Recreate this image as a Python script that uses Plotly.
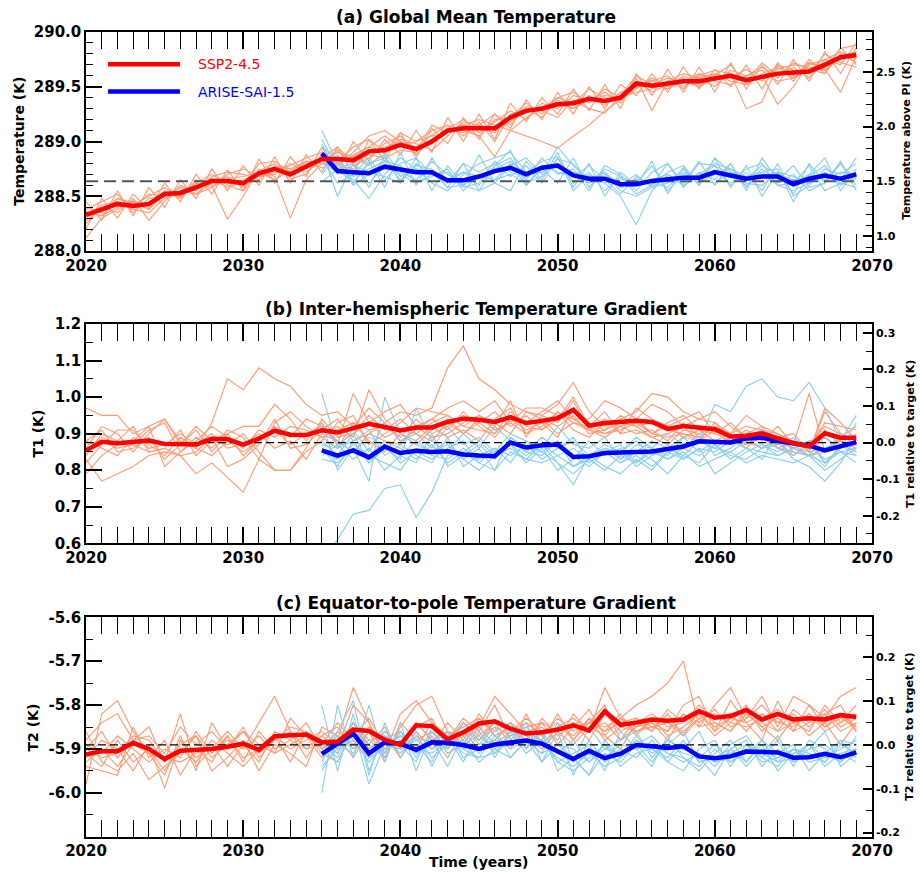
import plotly.graph_objects as go

# ---------------- DATA ----------------
years_ssp = list(range(2020, 2070))
years_arise = list(range(2035, 2070))

# Panel (a) Global mean temperature (K)
gmt_ssp_mean = [288.33, 288.38, 288.43, 288.41, 288.43, 288.52, 288.53, 288.58, 288.64, 288.64,
                288.62, 288.71, 288.75, 288.70, 288.77, 288.84, 288.84, 288.83, 288.91, 288.92,
                288.97, 288.93, 289.00, 289.10, 289.12, 289.12, 289.12, 289.22, 289.28, 289.30,
                289.34, 289.35, 289.39, 289.37, 289.40, 289.53, 289.51, 289.53, 289.55, 289.55,
                289.57, 289.60, 289.56, 289.59, 289.62, 289.63, 289.64, 289.70, 289.77, 289.79]
gmt_arise_mean = [288.89, 288.73, 288.72, 288.71, 288.77,
                  288.75, 288.72, 288.72, 288.645, 288.645, 288.68, 288.73, 288.76, 288.70, 288.76,
                  288.78, 288.69, 288.66, 288.66, 288.61, 288.61, 288.64, 288.66, 288.67, 288.67,
                  288.72, 288.69, 288.66, 288.68, 288.68, 288.61, 288.66, 288.69, 288.66, 288.70]
gmt_ssp_members = [
    [288.12, 288.30, 288.38, 288.46, 288.40, 288.55, 288.50, 288.62, 288.70, 288.60,
     288.55, 288.73, 288.80, 288.66, 288.70, 288.88, 288.80, 288.90, 289.05, 289.10,
     289.00, 288.95, 289.06, 289.15, 289.05, 289.18, 289.00, 289.25, 289.30, 289.22,
     289.38, 289.30, 289.42, 289.33, 289.45, 289.50, 289.56, 289.48, 289.60, 289.52,
     289.62, 289.58, 289.66, 289.55, 289.70, 289.60, 289.72, 289.68, 289.85, 289.88],
    [288.38, 288.45, 288.52, 288.35, 288.48, 288.50, 288.58, 288.55, 288.68, 288.72,
     288.70, 288.65, 288.78, 288.75, 288.82, 288.80, 288.92, 288.78, 288.85, 288.98,
     289.05, 288.88, 289.02, 289.12, 289.20, 289.08, 289.18, 289.28, 289.20, 289.35,
     289.30, 289.42, 289.38, 289.45, 289.35, 289.58, 289.28, 289.55, 289.62, 289.58,
     289.50, 289.65, 289.60, 289.68, 289.58, 289.72, 289.66, 289.62, 289.80, 289.72],
    [288.25, 288.40, 288.35, 288.48, 288.28, 288.45, 288.60, 288.52, 288.58, 288.70,
     288.75, 288.68, 288.70, 288.80, 288.72, 288.82, 288.90, 288.86, 288.80, 288.88,
     289.02, 288.98, 288.92, 289.05, 289.18, 289.15, 289.25, 289.15, 289.32, 289.28,
     289.22, 289.38, 289.30, 289.26, 289.42, 289.50, 289.55, 289.60, 289.48, 289.62,
     289.55, 289.52, 289.60, 289.65, 289.55, 289.58, 289.70, 289.75, 289.70, 289.90],
    [288.40, 288.35, 288.48, 288.42, 288.50, 288.58, 288.48, 288.65, 288.60, 288.29,
     288.50, 288.75, 288.68, 288.30, 288.65, 288.80, 288.78, 288.88, 288.95, 289.05,
     288.95, 289.00, 289.10, 289.15, 289.10, 289.05, 288.86, 289.10, 289.22, 289.30,
     289.40, 289.45, 289.35, 289.48, 289.40, 289.45, 289.48, 289.55, 289.50, 289.60,
     289.65, 289.62, 289.55, 289.72, 289.60, 289.68, 289.58, 289.75, 289.82, 289.75],
    [288.30, 288.42, 288.45, 288.38, 288.35, 288.48, 288.55, 288.60, 288.66, 288.58,
     288.63, 288.68, 288.72, 288.78, 288.85, 288.90, 288.82, 288.95, 289.02, 288.90,
     289.08, 289.00, 289.05, 289.08, 289.15, 289.20, 289.15, 289.10, 289.05, 289.00,
     288.94, 289.05, 289.15, 289.28, 289.38, 289.55, 289.45, 289.52, 289.58, 289.50,
     289.60, 289.70, 289.52, 289.62, 289.68, 289.58, 289.65, 289.72, 289.75, 289.82],
    [288.35, 288.32, 288.40, 288.45, 288.42, 288.55, 288.50, 288.62, 288.58, 288.66,
     288.68, 288.72, 288.65, 288.74, 288.80, 288.85, 288.95, 288.80, 288.88, 288.85,
     288.92, 288.90, 289.15, 289.08, 289.12, 289.05, 289.20, 289.22, 289.35, 289.25,
     289.40, 289.35, 289.48, 289.40, 289.38, 289.48, 289.58, 289.50, 289.55, 289.62,
     289.58, 289.62, 289.30, 289.36, 289.70, 289.65, 289.62, 289.80, 289.72, 289.68],
    [288.28, 288.38, 288.45, 288.40, 288.52, 288.50, 288.55, 288.52, 288.62, 288.68,
     288.58, 288.80, 288.82, 288.72, 288.78, 288.84, 288.78, 288.75, 288.90, 288.95,
     289.00, 288.92, 288.98, 289.12, 289.08, 289.15, 289.10, 289.18, 289.30, 289.28,
     289.35, 289.30, 289.40, 289.38, 289.42, 289.60, 289.52, 289.58, 289.55, 289.58,
     289.62, 289.55, 289.52, 289.60, 289.66, 289.70, 289.68, 289.65, 289.78, 289.82],
    [288.20, 288.48, 288.30, 288.52, 288.38, 288.62, 288.45, 288.70, 288.52, 288.74,
     288.55, 288.84, 288.62, 288.86, 288.68, 288.95, 288.72, 289.00, 288.82, 289.02,
     288.88, 289.10, 288.90, 289.22, 289.00, 289.25, 289.02, 289.35, 289.18, 289.40,
     289.25, 289.48, 289.28, 289.52, 289.30, 289.62, 289.42, 289.66, 289.45, 289.68,
     289.45, 289.72, 289.48, 289.70, 289.52, 289.75, 289.55, 289.82, 289.62, 289.86],
    [288.36, 288.32, 288.48, 288.44, 288.38, 288.52, 288.50, 288.60, 288.66, 288.62,
     288.60, 288.70, 288.74, 288.68, 288.82, 288.76, 288.80, 288.86, 288.95, 288.90,
     288.98, 288.92, 289.02, 289.10, 289.15, 289.12, 289.08, 289.24, 289.28, 289.32,
     289.35, 289.30, 289.38, 289.42, 289.40, 289.50, 289.52, 289.48, 289.55, 289.50,
     289.58, 289.62, 289.58, 289.60, 289.34, 289.50, 289.72, 289.66, 289.45, 289.78],
    [288.45, 288.28, 288.55, 288.32, 288.58, 288.40, 288.65, 288.48, 288.75, 288.55,
     288.78, 288.60, 288.86, 288.62, 288.88, 288.72, 288.95, 288.70, 289.02, 288.82,
     289.08, 288.85, 289.12, 288.98, 289.22, 289.02, 289.25, 289.12, 289.38, 289.20,
     289.45, 289.25, 289.50, 289.30, 289.52, 289.42, 289.62, 289.45, 289.68, 289.48,
     289.66, 289.50, 289.70, 289.48, 289.72, 289.55, 289.75, 289.62, 289.86, 289.70],
]
gmt_arise_members = [
    [289.10, 288.80, 288.65, 288.48, 288.70,
     288.85, 288.75, 288.62, 288.55, 288.70, 288.80, 288.85, 288.90, 288.72, 288.82,
     288.86, 288.55, 288.70, 288.62, 288.50, 288.24, 288.55, 288.70, 288.62, 288.80,
     288.78, 288.60, 288.72, 288.55, 288.80, 288.50, 288.60, 288.75, 288.70, 288.80],
    [288.98, 288.70, 288.85, 288.78, 288.90,
     288.72, 288.65, 288.82, 288.70, 288.60, 288.55, 288.62, 288.78, 288.85, 288.70,
     288.95, 288.78, 288.65, 288.72, 288.60, 288.70, 288.58, 288.62, 288.75, 288.60,
     288.85, 288.72, 288.60, 288.75, 288.62, 288.70, 288.55, 288.62, 288.80, 288.60],
    [288.85, 288.62, 288.70, 288.85, 288.65,
     288.80, 288.85, 288.70, 288.62, 288.72, 288.60, 288.78, 288.85, 288.65, 288.85,
     288.70, 288.75, 288.55, 288.78, 288.70, 288.55, 288.72, 288.80, 288.58, 288.72,
     288.65, 288.80, 288.58, 288.72, 288.75, 288.45, 288.70, 288.85, 288.55, 288.75],
    [288.75, 288.82, 288.60, 288.70, 288.82,
     288.65, 288.78, 288.75, 288.58, 288.80, 288.72, 288.80, 288.68, 288.78, 288.62,
     288.85, 288.62, 288.72, 288.55, 288.68, 288.62, 288.78, 288.55, 288.70, 288.65,
     288.72, 288.62, 288.75, 288.80, 288.60, 288.62, 288.78, 288.55, 288.62, 288.72],
    [288.63, 288.75, 288.80, 288.62, 288.78,
     288.70, 288.62, 288.68, 288.75, 288.55, 288.70, 288.65, 288.80, 288.60, 288.78,
     288.72, 288.68, 288.78, 288.65, 288.52, 288.68, 288.60, 288.72, 288.78, 288.62,
     288.70, 288.75, 288.62, 288.60, 288.72, 288.68, 288.62, 288.70, 288.65, 288.85],
    [288.92, 288.50, 288.80, 288.58, 288.88,
     288.62, 288.85, 288.55, 288.78, 288.60, 288.88, 288.62, 288.55, 288.82, 288.65,
     288.90, 288.58, 288.80, 288.50, 288.72, 288.60, 288.82, 288.52, 288.76, 288.60,
     288.85, 288.58, 288.78, 288.50, 288.72, 288.52, 288.80, 288.62, 288.82, 288.55],
    [288.80, 288.72, 288.78, 288.72, 288.68,
     288.62, 288.80, 288.70, 288.72, 288.58, 288.62, 288.82, 288.72, 288.68, 288.75,
     288.80, 288.70, 288.62, 288.70, 288.58, 288.66, 288.62, 288.58, 288.72, 288.65,
     288.62, 288.72, 288.66, 288.78, 288.70, 288.65, 288.68, 288.78, 288.60, 288.68],
    [288.95, 288.85, 288.68, 288.75, 288.82,
     288.78, 288.62, 288.70, 288.65, 288.72, 288.68, 288.75, 288.82, 288.70, 288.72,
     288.78, 288.72, 288.68, 288.62, 288.66, 288.60, 288.65, 288.70, 288.60, 288.68,
     288.78, 288.70, 288.65, 288.68, 288.72, 288.62, 288.70, 288.65, 288.72, 288.70],
    [288.70, 288.88, 288.62, 288.82, 288.58,
     288.90, 288.60, 288.85, 288.62, 288.80, 288.55, 288.78, 288.92, 288.60, 288.75,
     288.62, 288.85, 288.58, 288.75, 288.68, 288.52, 288.60, 288.80, 288.62, 288.82,
     288.60, 288.80, 288.55, 288.85, 288.65, 288.78, 288.58, 288.62, 288.80, 288.65],
    [289.02, 288.75, 288.62, 288.80, 288.85,
     288.68, 288.75, 288.72, 288.58, 288.60, 288.68, 288.65, 288.70, 288.62, 288.68,
     288.84, 288.80, 288.62, 288.72, 288.55, 288.50, 288.58, 288.68, 288.62, 288.70,
     288.80, 288.75, 288.68, 288.72, 288.60, 288.55, 288.62, 288.72, 288.62, 288.58],
]

# Panel (b) Inter-hemispheric gradient T1 (K)
t1_ssp_mean = [0.854, 0.878, 0.874, 0.876, 0.881, 0.872, 0.872, 0.870, 0.886, 0.885,
               0.870, 0.887, 0.908, 0.897, 0.896, 0.909, 0.903, 0.915, 0.927, 0.918,
               0.909, 0.917, 0.917, 0.932, 0.941, 0.938, 0.932, 0.945, 0.929, 0.935,
               0.942, 0.965, 0.922, 0.929, 0.932, 0.935, 0.932, 0.913, 0.921, 0.915,
               0.912, 0.892, 0.894, 0.901, 0.887, 0.874, 0.865, 0.901, 0.889, 0.889]
t1_arise_mean = [0.854, 0.840, 0.854, 0.835, 0.865,
                 0.847, 0.853, 0.850, 0.852, 0.843, 0.840, 0.838, 0.876, 0.862, 0.868,
                 0.870, 0.836, 0.838, 0.847, 0.850, 0.850, 0.851, 0.858, 0.865, 0.879,
                 0.877, 0.876, 0.887, 0.889, 0.880, 0.874, 0.867, 0.854, 0.867, 0.877]
t1_ssp_members = [
    [0.97, 0.95, 0.95, 0.90, 0.92, 0.94, 0.88, 0.86, 0.93, 1.05,
     1.02, 1.08, 1.05, 1.03, 0.98, 0.95, 0.96, 0.92, 0.97, 0.93,
     0.96, 0.95, 0.97, 1.08, 1.14, 1.05, 1.02, 0.98, 0.96, 0.95,
     0.98, 1.04, 0.96, 0.92, 0.94, 0.96, 1.01, 1.00, 0.96, 0.94,
     0.93, 0.90, 0.95, 0.92, 0.90, 0.88, 0.87, 0.92, 0.90, 0.88],
    [0.83, 0.77, 0.79, 0.81, 0.84, 0.85, 0.84, 0.79, 0.82, 0.78,
     0.74, 0.83, 0.80, 0.80, 0.85, 0.88, 0.93, 0.95, 0.87, 0.90,
     0.93, 0.97, 0.96, 0.95, 0.92, 0.95, 0.93, 0.90, 0.96, 0.94,
     0.90, 0.93, 0.91, 0.89, 0.92, 0.94, 0.90, 0.92, 0.89, 0.91,
     0.88, 0.90, 0.87, 0.89, 0.86, 0.85, 0.84, 0.86, 0.88, 0.87],
    [0.86, 0.92, 0.90, 0.85, 0.90, 0.94, 0.87, 0.92, 0.88, 0.90,
     0.92, 0.92, 0.98, 0.94, 0.88, 0.93, 0.87, 1.01, 0.93, 0.96,
     0.98, 0.92, 0.94, 0.97, 0.99, 0.96, 0.99, 0.93, 0.97, 0.97,
     0.95, 0.94, 0.94, 0.99, 0.97, 0.94, 0.98, 0.96, 0.92, 0.94,
     0.96, 0.92, 0.89, 0.91, 0.89, 0.90, 0.85, 0.97, 0.93, 0.88],
    [0.82, 0.87, 0.91, 0.91, 0.86, 0.87, 0.90, 0.87, 0.90, 0.86,
     0.87, 0.90, 0.86, 0.88, 0.83, 0.90, 0.92, 0.89, 1.02, 0.94,
     0.90, 0.87, 0.91, 0.94, 0.90, 0.93, 0.96, 0.92, 0.95, 0.91,
     0.96, 0.93, 0.92, 0.96, 0.90, 0.97, 0.94, 0.92, 0.94, 0.96,
     0.90, 0.88, 0.91, 0.88, 0.92, 0.87, 1.01, 0.85, 0.89, 0.92],
    [0.79, 0.84, 0.87, 0.88, 0.92, 0.81, 0.85, 0.89, 0.86, 0.91,
     0.89, 0.83, 0.93, 0.96, 0.92, 0.89, 0.86, 0.93, 0.88, 0.85,
     0.90, 0.88, 0.92, 0.89, 0.91, 0.88, 0.94, 0.97, 0.90, 0.92,
     0.96, 0.91, 0.89, 0.93, 0.92, 0.90, 0.91, 0.88, 0.93, 0.89,
     0.87, 0.89, 0.86, 0.90, 0.88, 0.84, 0.88, 0.82, 0.86, 0.90],
    [0.84, 0.90, 0.88, 0.92, 0.85, 0.86, 0.91, 0.84, 0.88, 0.87,
     0.90, 0.85, 0.80, 0.80, 0.86, 0.94, 0.89, 0.90, 0.95, 0.91,
     0.94, 0.90, 0.93, 0.95, 0.92, 0.91, 0.90, 0.94, 0.91, 0.93,
     0.89, 0.97, 0.93, 0.91, 0.95, 0.92, 0.93, 0.91, 0.90, 0.88,
     0.91, 0.87, 0.90, 0.92, 0.86, 0.88, 0.86, 0.91, 0.87, 0.85],
    [0.88, 0.86, 0.84, 0.89, 0.87, 0.84, 0.89, 0.86, 0.84, 0.88,
     0.85, 0.88, 0.91, 0.87, 0.90, 0.92, 0.88, 0.85, 0.90, 0.88,
     0.87, 0.92, 0.89, 0.90, 0.93, 0.95, 0.91, 0.93, 0.90, 0.94,
     0.92, 0.95, 0.90, 0.91, 0.93, 0.92, 0.89, 0.87, 0.91, 0.90,
     0.92, 0.89, 0.88, 0.86, 0.89, 0.86, 0.84, 0.90, 0.88, 0.86],
    [0.85, 0.88, 0.86, 0.87, 0.91, 0.93, 0.85, 0.88, 0.92, 0.89,
     0.86, 0.91, 0.89, 0.92, 0.91, 0.89, 0.91, 0.93, 0.91, 0.92,
     0.89, 0.94, 0.90, 0.92, 0.95, 0.93, 0.90, 0.96, 0.92, 0.91,
     0.94, 1.00, 0.92, 0.90, 0.91, 0.93, 0.90, 0.93, 0.95, 0.91,
     0.90, 0.93, 0.89, 0.91, 0.88, 0.86, 0.88, 0.89, 0.86, 0.87],
    [0.88, 0.91, 0.85, 0.86, 0.89, 0.83, 0.87, 0.91, 0.85, 0.90,
     0.84, 0.88, 0.92, 0.89, 0.94, 0.92, 0.87, 0.90, 0.93, 0.89,
     0.91, 0.90, 0.88, 0.93, 0.90, 0.94, 0.92, 0.99, 0.89, 0.95,
     0.93, 0.99, 0.91, 0.94, 0.90, 0.91, 0.89, 0.90, 0.92, 0.88,
     0.93, 0.88, 0.87, 0.90, 0.87, 0.88, 0.85, 0.96, 0.90, 0.88],
    [0.85, 0.89, 0.87, 0.87, 0.85, 0.86, 0.84, 0.85, 0.89, 0.81,
     0.83, 0.87, 0.94, 0.86, 0.87, 0.91, 0.94, 0.88, 0.90, 0.93,
     0.88, 0.91, 0.94, 0.91, 0.96, 0.92, 0.89, 0.94, 0.93, 0.96,
     0.99, 0.94, 0.91, 0.90, 0.92, 0.94, 0.90, 0.89, 0.90, 0.89,
     0.92, 0.90, 0.92, 0.91, 0.90, 0.87, 0.86, 0.93, 0.92, 0.91],
]
t1_arise_members = [
    [0.55, 0.61, 0.68, 0.69, 0.75,
     0.76, 0.67, 0.74, 0.84, 0.85, 0.82, 0.80, 0.85, 0.83, 0.82,
     0.84, 0.81, 0.83, 0.80, 0.84, 0.82, 0.86, 0.83, 0.85, 0.81,
     0.83, 0.85, 0.82, 0.84, 0.83, 0.82, 0.84, 0.80, 0.83, 0.86],
    [1.01, 0.86, 0.91, 0.85, 0.93,
     0.88, 0.90, 0.86, 0.92, 0.87, 0.89, 0.85, 0.90, 0.88, 0.86,
     0.92, 0.87, 0.86, 0.89, 0.83, 0.87, 0.86, 0.84, 0.89, 0.88,
     0.98, 0.96, 1.03, 1.05, 1.00, 0.99, 1.04, 0.97, 0.88, 0.95],
    [0.93, 0.80, 0.86, 0.77, 1.00,
     0.90, 0.87, 0.85, 0.88, 0.83, 0.80, 0.84, 0.87, 0.82, 0.86,
     0.80, 0.83, 0.88, 0.84, 0.86, 0.81, 0.84, 0.87, 0.83, 0.86,
     0.85, 0.88, 0.86, 0.83, 0.90, 0.85, 0.84, 0.82, 0.86, 0.93],
    [0.88, 0.84, 0.90, 0.82, 0.86,
     0.83, 0.97, 0.88, 0.85, 0.90, 0.86, 0.92, 0.88, 0.85, 0.89,
     0.86, 0.88, 0.84, 0.87, 0.85, 0.89, 0.86, 0.90, 0.87, 0.88,
     0.86, 0.89, 0.88, 0.91, 0.88, 0.87, 0.84, 0.85, 0.90, 0.87],
    [0.84, 0.87, 0.83, 0.86, 0.80,
     0.84, 0.82, 0.90, 0.81, 0.84, 0.87, 0.83, 0.89, 0.86, 0.85,
     0.82, 0.76, 0.84, 0.81, 0.79, 0.83, 0.80, 0.85, 0.83, 0.86,
     0.79, 0.82, 0.85, 0.87, 0.84, 0.86, 0.88, 0.82, 0.85, 0.84],
    [0.86, 0.81, 0.88, 0.91, 0.84,
     0.87, 0.84, 0.82, 0.89, 0.81, 0.84, 0.86, 0.82, 0.88, 0.85,
     0.88, 0.84, 0.81, 0.85, 0.82, 0.85, 0.83, 0.79, 0.84, 0.82,
     0.87, 0.84, 0.83, 0.86, 0.88, 0.83, 0.81, 0.77, 0.82, 0.89],
    [0.90, 0.88, 0.85, 0.89, 0.87,
     0.82, 0.85, 0.83, 0.86, 0.88, 0.82, 0.86, 0.84, 0.87, 0.83,
     0.86, 0.89, 0.82, 0.85, 0.87, 0.82, 0.85, 0.83, 0.86, 0.90,
     0.84, 0.86, 0.90, 0.87, 0.85, 0.88, 0.86, 0.89, 0.85, 0.86],
    [0.85, 0.83, 0.87, 0.84, 0.88,
     0.86, 0.83, 0.87, 0.82, 0.85, 0.88, 0.84, 0.86, 0.83, 0.87,
     0.84, 0.86, 0.83, 0.86, 0.85, 0.88, 0.84, 0.86, 0.89, 0.85,
     0.88, 0.87, 0.89, 0.86, 0.87, 0.89, 0.85, 0.86, 0.88, 0.85],
    [0.87, 0.86, 0.88, 0.82, 0.86,
     0.84, 0.88, 0.85, 0.87, 0.83, 0.86, 0.80, 0.89, 0.85, 0.84,
     0.88, 0.81, 0.84, 0.86, 0.83, 0.85, 0.88, 0.86, 0.84, 0.88,
     0.86, 0.85, 0.88, 0.89, 0.86, 0.84, 0.87, 0.83, 0.85, 0.82],
    [0.83, 0.82, 0.86, 0.84, 0.82,
     0.80, 0.86, 0.84, 0.83, 0.86, 0.83, 0.85, 0.87, 0.84, 0.87,
     0.82, 0.79, 0.83, 0.85, 0.82, 0.84, 0.81, 0.85, 0.86, 0.84,
     0.87, 0.83, 0.86, 0.85, 0.84, 0.86, 0.85, 0.81, 0.87, 0.84],
]

# Panel (c) Equator-to-pole gradient T2 (K)
t2_ssp_mean = [-5.913, -5.905, -5.905, -5.886, -5.900, -5.923, -5.904, -5.902, -5.900, -5.895,
               -5.888, -5.902, -5.871, -5.869, -5.867, -5.885, -5.883, -5.856, -5.859, -5.879,
               -5.891, -5.846, -5.848, -5.878, -5.862, -5.842, -5.837, -5.854, -5.865, -5.862,
               -5.856, -5.846, -5.858, -5.814, -5.845, -5.840, -5.833, -5.836, -5.833, -5.814,
               -5.829, -5.825, -5.811, -5.833, -5.820, -5.833, -5.830, -5.833, -5.823, -5.827]
t2_arise_mean = [-5.911, -5.887, -5.865, -5.910, -5.885,
                 -5.888, -5.902, -5.885, -5.886, -5.891, -5.900, -5.890, -5.885, -5.881, -5.888,
                 -5.906, -5.923, -5.904, -5.921, -5.911, -5.891, -5.894, -5.898, -5.894, -5.917,
                 -5.921, -5.917, -5.906, -5.906, -5.908, -5.920, -5.919, -5.911, -5.919, -5.908]
t2_ssp_members = [
    [-5.98, -5.82, -5.79, -5.86, -5.91, -5.96, -5.87, -5.95, -5.84, -5.90,
     -5.86, -5.89, -5.91, -5.83, -5.87, -5.92, -5.88, -5.76, -5.84, -5.92,
     -5.85, -5.80, -5.78, -5.86, -5.90, -5.85, -5.78, -5.82, -5.86, -5.85,
     -5.88, -5.82, -5.86, -5.76, -5.83, -5.80, -5.78, -5.75, -5.70, -5.85,
     -5.80, -5.76, -5.83, -5.78, -5.85, -5.78, -5.80, -5.83, -5.78, -5.76],
    [-5.88, -5.84, -5.82, -5.88, -5.85, -5.93, -5.82, -5.94, -5.90, -5.86,
     -5.90, -5.84, -5.78, -5.86, -5.92, -5.87, -5.90, -5.80, -5.84, -5.91,
     -5.82, -5.79, -5.84, -5.88, -5.83, -5.86, -5.80, -5.88, -5.84, -5.87,
     -5.83, -5.86, -5.84, -5.80, -5.88, -5.83, -5.85, -5.86, -5.80, -5.78,
     -5.86, -5.79, -5.84, -5.88, -5.79, -5.86, -5.80, -5.85, -5.82, -5.85],
    [-5.94, -5.95, -5.96, -5.85, -5.92, -5.88, -5.96, -5.90, -5.93, -5.87,
     -5.92, -5.90, -5.87, -5.93, -5.86, -5.91, -5.93, -5.86, -5.89, -5.85,
     -5.92, -5.87, -5.89, -5.84, -5.88, -5.82, -5.87, -5.90, -5.82, -5.89,
     -5.85, -5.87, -5.83, -5.88, -5.85, -5.86, -5.84, -5.88, -5.82, -5.85,
     -5.84, -5.86, -5.81, -5.86, -5.82, -5.84, -5.86, -5.80, -5.84, -5.82],
    [-5.86, -5.93, -5.95, -5.91, -5.97, -5.94, -5.91, -5.87, -5.95, -5.92,
     -5.88, -5.95, -5.89, -5.91, -5.94, -5.85, -5.87, -5.92, -5.86, -5.90,
     -5.88, -5.91, -5.87, -5.92, -5.86, -5.90, -5.88, -5.84, -5.87, -5.90,
     -5.86, -5.89, -5.85, -5.87, -5.90, -5.84, -5.86, -5.82, -5.87, -5.83,
     -5.87, -5.84, -5.80, -5.85, -5.88, -5.83, -5.87, -5.84, -5.89, -5.84],
    [-5.92, -5.88, -5.90, -5.95, -5.89, -5.99, -5.88, -5.92, -5.89, -5.94,
     -5.89, -5.93, -5.86, -5.88, -5.90, -5.89, -5.84, -5.88, -5.92, -5.86,
     -5.90, -5.84, -5.88, -5.86, -5.89, -5.83, -5.86, -5.84, -5.90, -5.83,
     -5.87, -5.84, -5.88, -5.82, -5.86, -5.84, -5.82, -5.85, -5.84, -5.80,
     -5.83, -5.82, -5.86, -5.82, -5.84, -5.85, -5.82, -5.86, -5.84, -5.80],
    [-5.90, -5.86, -5.92, -5.88, -5.87, -5.91, -5.85, -5.89, -5.86, -5.90,
     -5.85, -5.92, -5.88, -5.85, -5.86, -5.88, -5.91, -5.84, -5.88, -5.87,
     -5.89, -5.85, -5.83, -5.90, -5.84, -5.88, -5.84, -5.86, -5.83, -5.86,
     -5.84, -5.88, -5.83, -5.86, -5.84, -5.83, -5.86, -5.81, -5.84, -5.82,
     -5.85, -5.83, -5.81, -5.84, -5.86, -5.81, -5.84, -5.82, -5.80, -5.86],
    [-5.89, -5.91, -5.87, -5.90, -5.93, -5.90, -5.92, -5.86, -5.91, -5.87,
     -5.93, -5.86, -5.90, -5.88, -5.84, -5.90, -5.86, -5.89, -5.85, -5.88,
     -5.86, -5.90, -5.84, -5.87, -5.85, -5.83, -5.87, -5.85, -5.88, -5.84,
     -5.89, -5.85, -5.81, -5.87, -5.83, -5.85, -5.84, -5.86, -5.82, -5.84,
     -5.81, -5.85, -5.83, -5.80, -5.84, -5.82, -5.85, -5.81, -5.85, -5.83],
    [-5.91, -5.94, -5.88, -5.93, -5.90, -5.95, -5.90, -5.93, -5.88, -5.91,
     -5.94, -5.90, -5.87, -5.90, -5.88, -5.86, -5.89, -5.84, -5.90, -5.87,
     -5.92, -5.86, -5.90, -5.88, -5.84, -5.87, -5.84, -5.89, -5.86, -5.88,
     -5.82, -5.88, -5.84, -5.86, -5.82, -5.87, -5.83, -5.84, -5.87, -5.81,
     -5.84, -5.86, -5.82, -5.85, -5.83, -5.86, -5.84, -5.82, -5.86, -5.84],
    [-5.93, -5.90, -5.94, -5.89, -5.91, -5.92, -5.93, -5.91, -5.90, -5.88,
     -5.90, -5.87, -5.91, -5.89, -5.87, -5.90, -5.88, -5.87, -5.83, -5.89,
     -5.90, -5.84, -5.88, -5.86, -5.87, -5.85, -5.89, -5.86, -5.84, -5.87,
     -5.85, -5.83, -5.86, -5.84, -5.88, -5.85, -5.83, -5.87, -5.85, -5.82,
     -5.86, -5.83, -5.84, -5.82, -5.86, -5.84, -5.82, -5.85, -5.83, -5.85],
    [-5.90, -5.92, -5.91, -5.87, -5.88, -5.93, -5.89, -5.87, -5.92, -5.89,
     -5.86, -5.91, -5.88, -5.86, -5.90, -5.87, -5.85, -5.90, -5.86, -5.93,
     -5.84, -5.88, -5.86, -5.90, -5.86, -5.88, -5.85, -5.87, -5.85, -5.84,
     -5.86, -5.85, -5.84, -5.85, -5.83, -5.86, -5.85, -5.84, -5.86, -5.83,
     -5.82, -5.84, -5.85, -5.83, -5.81, -5.84, -5.83, -5.84, -5.82, -5.86],
]
t2_arise_members = [
    [-6.00, -5.80, -5.92, -5.80, -5.93,
     -5.84, -5.95, -5.86, -5.90, -5.84, -5.89, -5.85, -5.92, -5.88, -5.91,
     -5.84, -5.93, -5.85, -5.90, -5.88, -5.86, -5.92, -5.88, -5.90, -5.86,
     -5.93, -5.89, -5.87, -5.92, -5.88, -5.94, -5.88, -5.90, -5.93, -5.87],
    [-5.80, -5.95, -5.82, -5.96, -5.84,
     -5.92, -5.86, -5.94, -5.87, -5.93, -5.86, -5.91, -5.88, -5.84, -5.93,
     -5.86, -5.96, -5.88, -5.93, -5.90, -5.92, -5.88, -5.93, -5.95, -5.90,
     -5.88, -5.94, -5.89, -5.91, -5.87, -5.93, -5.90, -5.86, -5.94, -5.91],
    [-5.93, -5.86, -5.79, -5.95, -5.87,
     -5.89, -5.93, -5.85, -5.91, -5.89, -5.84, -5.92, -5.86, -5.91, -5.88,
     -5.93, -5.91, -5.89, -5.95, -5.86, -5.90, -5.94, -5.87, -5.92, -5.95,
     -5.91, -5.88, -5.93, -5.89, -5.95, -5.91, -5.89, -5.94, -5.91, -5.90],
    [-5.88, -5.91, -5.84, -5.89, -5.92,
     -5.86, -5.90, -5.88, -5.94, -5.87, -5.91, -5.88, -5.85, -5.90, -5.86,
     -5.91, -5.88, -5.93, -5.89, -5.92, -5.88, -5.90, -5.93, -5.89, -5.92,
     -5.96, -5.90, -5.93, -5.88, -5.91, -5.89, -5.95, -5.91, -5.88, -5.92],
    [-5.92, -5.88, -5.87, -5.91, -5.86,
     -5.90, -5.89, -5.93, -5.86, -5.90, -5.92, -5.87, -5.90, -5.88, -5.93,
     -5.89, -5.92, -5.96, -5.88, -5.92, -5.87, -5.91, -5.89, -5.86, -5.93,
     -5.92, -5.91, -5.89, -5.93, -5.92, -5.90, -5.93, -5.92, -5.90, -5.88],
    [-5.90, -5.93, -5.86, -5.92, -5.90,
     -5.87, -5.91, -5.89, -5.86, -5.92, -5.90, -5.86, -5.84, -5.89, -5.86,
     -5.95, -5.92, -5.96, -5.91, -5.93, -5.89, -5.87, -5.91, -5.92, -5.94,
     -5.90, -5.93, -5.91, -5.88, -5.93, -5.92, -5.89, -5.92, -5.91, -5.93],
    [-5.95, -5.89, -5.91, -5.86, -5.88,
     -5.91, -5.87, -5.92, -5.89, -5.88, -5.93, -5.90, -5.87, -5.85, -5.89,
     -5.92, -5.94, -5.91, -5.94, -5.92, -5.89, -5.93, -5.88, -5.90, -5.91,
     -5.94, -5.90, -5.88, -5.94, -5.90, -5.93, -5.91, -5.93, -5.89, -5.91],
    [-5.91, -5.87, -5.90, -5.88, -5.91,
     -5.86, -5.92, -5.86, -5.91, -5.89, -5.87, -5.90, -5.92, -5.88, -5.91,
     -5.89, -5.90, -5.93, -5.90, -5.91, -5.88, -5.90, -5.92, -5.88, -5.93,
     -5.92, -5.90, -5.94, -5.90, -5.92, -5.91, -5.90, -5.89, -5.92, -5.90],
    [-5.94, -5.90, -5.88, -5.93, -5.89,
     -5.87, -5.90, -5.91, -5.88, -5.90, -5.89, -5.88, -5.89, -5.86, -5.88,
     -5.91, -5.93, -5.90, -5.92, -5.89, -5.90, -5.89, -5.91, -5.93, -5.91,
     -5.93, -5.92, -5.90, -5.91, -5.93, -5.90, -5.92, -5.91, -5.93, -5.90],
    [-5.89, -5.92, -5.85, -5.98, -5.89,
     -5.90, -5.88, -5.90, -5.87, -5.91, -5.92, -5.91, -5.86, -5.87, -5.87,
     -5.93, -5.95, -5.92, -5.89, -5.94, -5.91, -5.90, -5.89, -5.91, -5.92,
     -5.89, -5.93, -5.90, -5.92, -5.94, -5.90, -5.91, -5.93, -5.88, -5.89],
]

# Target levels (left-axis units) and their right-axis equivalents
targets_left = [288.636, 0.8756, -5.8906]
targets_right = [1.5, 0.0, 0.0]

# Axis ranges / ticks
left_ranges = [[288.0, 290.0], [0.6, 1.2], [-6.1, -5.6]]
left_tickvals = [[288.0, 288.5, 289.0, 289.5, 290.0],
                 [0.6, 0.7, 0.8, 0.9, 1.0, 1.1, 1.2],
                 [-6.0, -5.9, -5.8, -5.7, -5.6]]
right_tickvals = [[1.0, 1.5, 2.0, 2.5],
                  [-0.2, -0.1, 0.0, 0.1, 0.2, 0.3],
                  [-0.2, -0.1, 0.0, 0.1, 0.2]]
left_minor = [0.1, 0.05, 0.05]
right_minor = [0.1, 0.05, 0.05]
x_tickvals = [2020, 2030, 2040, 2050, 2060, 2070]

titles = ["(a) Global Mean Temperature",
          "(b) Inter-hemispheric Temperature Gradient",
          "(c) Equator-to-pole Temperature Gradient"]
left_titles = ["Temperature (K)", "T1 (K)", "T2 (K)"]
right_titles = ["Temperature above PI (K)", "T1 relative to target (K)", "T2 relative to target (K)"]
legend_labels = ["SSP2-4.5", "ARISE-SAI-1.5"]

# ---------------- SANITY ----------------
for m in gmt_ssp_members + t1_ssp_members + t2_ssp_members + [gmt_ssp_mean, t1_ssp_mean, t2_ssp_mean]:
    assert len(m) == len(years_ssp), len(m)
for m in gmt_arise_members + t1_arise_members + t2_arise_members + [gmt_arise_mean, t1_arise_mean, t2_arise_mean]:
    assert len(m) == len(years_arise), len(m)


def fmt(v):
    return f"{v:.1f}"


# ---------------- STYLE ----------------
FONT = "DejaVu Sans"
W, H = 920, 872
C_SSP_M = "#FF9872"
C_ARI_M = "#87CEEB"
C_SSP = "#FF0000"
C_ARI = "#0000FF"

X_DOM = [86 / W, 872 / W]
panel_px = [(32, 251), (324, 543.3), (617.3, 836.7)]
y_doms = [[1 - b / H, 1 - t / H] for t, b in panel_px]

fig = go.Figure()

panels = [
    (gmt_ssp_members, gmt_arise_members, gmt_ssp_mean, gmt_arise_mean),
    (t1_ssp_members, t1_arise_members, t1_ssp_mean, t1_arise_mean),
    (t2_ssp_members, t2_arise_members, t2_ssp_mean, t2_arise_mean),
]

layout = {}
for i, (sm, am, smean, amean) in enumerate(panels):
    xa = "x" if i == 0 else f"x{i + 1}"
    yl = "y" if i == 0 else f"y{2 * i + 1}"
    yr = f"y{2 * i + 2}"
    for m in sm:
        fig.add_trace(go.Scatter(x=years_ssp, y=m, mode="lines", xaxis=xa, yaxis=yl,
                                 line=dict(color=C_SSP_M, width=1.1), showlegend=False, hoverinfo="skip"))
    for m in am:
        fig.add_trace(go.Scatter(x=years_arise, y=m, mode="lines", xaxis=xa, yaxis=yl,
                                 line=dict(color=C_ARI_M, width=1.1), showlegend=False, hoverinfo="skip"))
    if i == 0:
        dline = dict(color="#555555", width=2, dash="12px,6px")
    else:
        dline = dict(color="black", width=1.2, dash="8px,4px")
    fig.add_trace(go.Scatter(x=years_ssp, y=[targets_left[i]] * len(years_ssp), mode="lines",
                             xaxis=xa, yaxis=yl, line=dline, showlegend=False, hoverinfo="skip"))
    fig.add_trace(go.Scatter(x=years_arise, y=amean, mode="lines", xaxis=xa, yaxis=yl,
                             line=dict(color=C_ARI, width=4.5), showlegend=False, hoverinfo="skip"))
    fig.add_trace(go.Scatter(x=years_ssp, y=smean, mode="lines", xaxis=xa, yaxis=yl,
                             line=dict(color=C_SSP, width=4.5), showlegend=False, hoverinfo="skip"))
    fig.add_trace(go.Scatter(x=[years_ssp[0]], y=[targets_right[i]], mode="lines", xaxis=xa, yaxis=yr,
                             line=dict(width=0), showlegend=False, hoverinfo="skip"))

    lo, hi = left_ranges[i]
    off = targets_right[i] - targets_left[i]
    xkey = "xaxis" if i == 0 else f"xaxis{i + 1}"
    ylkey = "yaxis" if i == 0 else f"yaxis{2 * i + 1}"
    yrkey = f"yaxis{2 * i + 2}"
    layout[xkey] = dict(
        domain=X_DOM, anchor=yl, range=[2020, 2070], tickmode="array", tickvals=x_tickvals,
        ticktext=[str(v) for v in x_tickvals],
        ticks="inside", ticklen=17, tickwidth=1.5, tickcolor="black",
        showline=True, linewidth=1.5, linecolor="black", mirror="allticks",
        showgrid=False, zeroline=False, automargin=False,
        minor=dict(dtick=1, tick0=2020, ticks="inside", ticklen=8, tickwidth=1.2, tickcolor="black", showgrid=False),
        tickfont=dict(family=FONT, size=15, color="black", weight="bold"),
    )
    layout[ylkey] = dict(
        domain=y_doms[i], anchor=xa, range=[lo, hi], tickmode="array", tickvals=left_tickvals[i],
        ticktext=[fmt(v) for v in left_tickvals[i]],
        ticks="inside", ticklen=16, tickwidth=1.5, tickcolor="black",
        showline=True, linewidth=1.5, linecolor="black", mirror=False,
        showgrid=False, zeroline=False, automargin=False,
        minor=dict(dtick=left_minor[i], tick0=0, ticks="inside", ticklen=7, tickwidth=1.2, tickcolor="black", showgrid=False),
        tickfont=dict(family=FONT, size=15, color="black", weight="bold"),
    )
    layout[yrkey] = dict(
        domain=y_doms[i], anchor=xa, overlaying=yl, side="right",
        range=[lo + off, hi + off], tickmode="array", tickvals=right_tickvals[i],
        ticktext=[fmt(v) for v in right_tickvals[i]],
        ticks="inside", ticklen=9, tickwidth=1.5, tickcolor="black",
        showline=True, linewidth=1.5, linecolor="black",
        showgrid=False, zeroline=False, automargin=False,
        minor=dict(dtick=right_minor[i], tick0=0, ticks="inside", ticklen=6, tickwidth=1.2, tickcolor="black", showgrid=False),
        tickfont=dict(family=FONT, size=11, color="black", weight="bold"),
    )

annotations = []
title_y_px = [17, 309, 602.5]
left_title_px = [(19, 141.7), (37.5, 434), (32, 727.5)]
right_title_px = [(907, 140.8), (910, 434), (910, 726.7)]
for i in range(3):
    annotations.append(dict(text=titles[i], xref="paper", yref="paper", x=476 / W, y=1 - title_y_px[i] / H,
                            xanchor="center", yanchor="middle", showarrow=False,
                            font=dict(family=FONT, size=17, color="black", weight="bold")))
    lx, ly = left_title_px[i]
    annotations.append(dict(text=left_titles[i], xref="paper", yref="paper", x=lx / W, y=1 - ly / H,
                            xanchor="center", yanchor="middle", showarrow=False, textangle=-90,
                            font=dict(family=FONT, size=14, color="black", weight="bold")))
    rx, ry = right_title_px[i]
    annotations.append(dict(text=right_titles[i], xref="paper", yref="paper", x=rx / W, y=1 - ry / H,
                            xanchor="center", yanchor="middle", showarrow=False, textangle=-90,
                            font=dict(family=FONT, size=11, color="black", weight="bold")))
annotations.append(dict(text="Time (years)", xref="paper", yref="paper", x=478 / W, y=1 - 862 / H,
                        xanchor="center", yanchor="middle", showarrow=False,
                        font=dict(family=FONT, size=14, color="black", weight="bold")))
leg_y_px = [64.3, 91.5]
leg_cols = [C_SSP, C_ARI]
shapes = []
for lbl, ypx, col in zip(legend_labels, leg_y_px, leg_cols):
    shapes.append(dict(type="line", xref="paper", yref="paper", x0=108 / W, x1=180 / W,
                       y0=1 - ypx / H, y1=1 - ypx / H, line=dict(color=col, width=4.5)))
    annotations.append(dict(text=lbl, xref="paper", yref="paper", x=196 / W, y=1 - ypx / H,
                            xanchor="left", yanchor="middle", showarrow=False,
                            font=dict(family=FONT, size=14, color=col)))

fig.update_layout(
    width=W, height=H, margin=dict(l=0, r=0, t=0, b=0, autoexpand=False),
    paper_bgcolor="white", plot_bgcolor="white",
    font=dict(family=FONT, color="black"),
    showlegend=False, annotations=annotations, shapes=shapes,
    **layout,
)

fig.write_html("out.html",
               config={"displayModeBar": False},
               post_script="document.body.style.margin='0';document.body.style.padding='0';"
                           "document.documentElement.style.overflow='hidden';")
